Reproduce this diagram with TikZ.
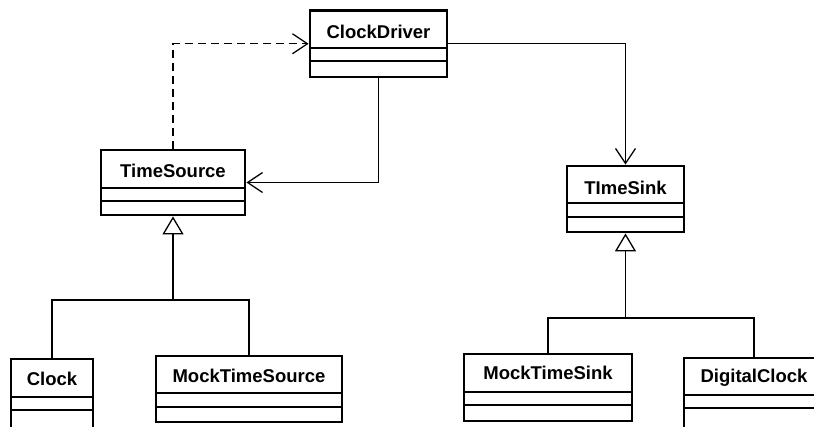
\documentclass[tikz,border=0pt]{standalone}
\usepackage{fontspec}
\setmainfont{Liberation Sans}
\usetikzlibrary{arrows.meta,fit,calc}

\tikzset{
  umlbox/.style={draw, line width=2.8pt, inner sep=0pt, fill=white},
  umlrule/.style={line width=1.6pt},
  umltitle/.style={font=\fontsize{18.5}{21}\selectfont\bfseries, inner sep=0pt, anchor=center},
  assoc/.style={line width=1.3pt, -{Straight Barb[length=15pt,width=20pt]}},
  depend/.style={assoc, dash pattern=on 8pt off 5pt},
  generalize/.style={line width=1.3pt, -{Triangle[open, length=18pt, width=21pt, fill=white]}},
}

% #1 name, #2 left, #3 top, #4 right, #5 bottom, #6/#7 compartment rules, #8 title centre, #9 title
\newcommand\umlclass[9]{%
  \node[umlbox, fit={(#2,#3) (#4,#5)}] (#1) {};
  \draw[umlrule] (#2,#6) -- (#4,#6);
  \draw[umlrule] (#2,#7) -- (#4,#7);
  \node[umltitle] (#1-title) at (#1.center |- 0,#8) {#9};
}

\begin{document}
\begin{tikzpicture}[x=1pt, y=-1pt]
  \fill[white] (0,0) rectangle (814,426);
  \useasboundingbox (0,0) rectangle (814,426);
  \clip (0,0) rectangle (814,426);

  \umlclass{cd}{310}{10.5}{447}{77}{48}{61}{32}{ClockDriver}
  \umlclass{ts}{101}{150}{245}{215}{188}{201}{171}{TimeSource}
  \umlclass{tsk}{567}{166}{684}{232}{203}{217}{188}{TImeSink}
  \umlclass{clk}{11}{359}{93}{450}{397}{410}{379}{Clock}
  \umlclass{mts}{156}{356}{342}{422}{393}{407}{376}{MockTimeSource}
  \umlclass{mtsk}{464}{354}{632}{421}{392}{405}{373}{MockTimeSink}
  \umlclass{dc}{684}{358}{824}{450}{395}{408}{378}{DigitalClock}

  % dependency and associations
  \draw[depend] (ts.north) |- (cd.west);
  \draw[assoc] (cd.south) |- (ts.east);
  \draw[assoc] (cd.east) -| (tsk.north);

  % generalisation trees
  \coordinate (j1) at (ts.south |- 0,300);
  \draw[line width=1.3pt] (clk.north) |- (j1) -| (mts.north);
  \draw[generalize] (j1) -- (ts.south);

  \coordinate (j2) at (tsk.south |- 0,318);
  \draw[line width=1.3pt] (mtsk.north) |- (j2) -| (dc.north);
  \draw[generalize] (j2) -- (tsk.south);
\end{tikzpicture}
\end{document}
